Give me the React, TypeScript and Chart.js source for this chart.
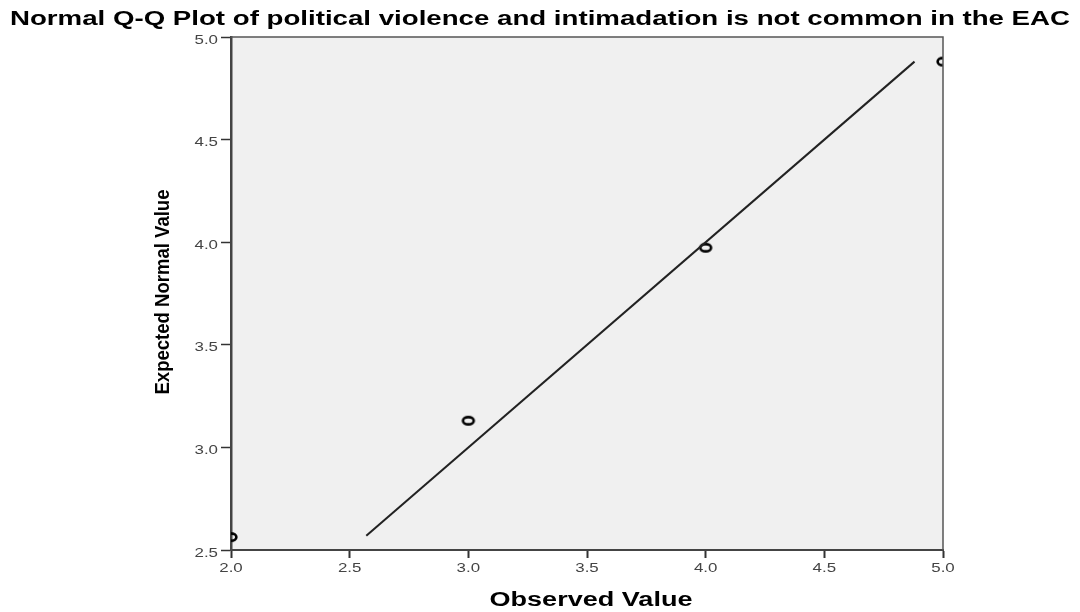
import React, { useEffect, useRef } from "react";
import { Chart, registerables } from "chart.js";

Chart.register(...registerables);

const chartTitle = "Normal Q-Q Plot of political violence and intimadation is not common in the EAC";
const xAxisTitle = "Observed Value";
const yAxisTitle = "Expected Normal Value";

const observedValues = [2, 3, 4, 5];
const expectedNormalValues = [2.563, 3.13, 3.973, 4.88];
const refLineX = [2.57, 4.88];
const refLineY = [2.57, 4.88];

const xTickValues = [2.0, 2.5, 3.0, 3.5, 4.0, 4.5, 5.0];
const yTickValues = [2.5, 3.0, 3.5, 4.0, 4.5, 5.0];

const axisMin = { x: 2, y: 2.5 };
const axisMax = { x: 5, y: 5 };

function makeEllipseMarker() {
  const c = document.createElement("canvas");
  c.width = 18;
  c.height = 14;
  const g = c.getContext("2d")!;
  g.strokeStyle = "#000";
  g.lineWidth = 2.6;
  g.beginPath();
  g.ellipse(9, 7, 5.4, 3.6, 0, 0, Math.PI * 2);
  g.stroke();
  return c;
}

function drawStretched(ctx: CanvasRenderingContext2D, text: string, x: number, y: number, sx: number) {
  ctx.save();
  ctx.translate(x, y);
  ctx.scale(sx, 1);
  ctx.fillText(text, 0, 0);
  ctx.restore();
}

export default function App() {
  const ref = useRef<HTMLCanvasElement | null>(null);

  useEffect(() => {
    if (!ref.current) return;
    const marker = makeEllipseMarker();

    const framePlugin = {
      id: "frame",
      beforeDraw(chart: any) {
        const { ctx, chartArea: a } = chart;
        ctx.save();
        ctx.fillStyle = "#ffffff";
        ctx.fillRect(0, 0, chart.width, chart.height);
        ctx.fillStyle = "#f0f0f0";
        ctx.fillRect(a.left, a.top, a.right - a.left, a.bottom - a.top);
        ctx.restore();
      },
      afterDraw(chart: any) {
        const { ctx, chartArea: a } = chart;
        const xs = chart.scales.x;
        const ys = chart.scales.y;
        ctx.save();
        ctx.strokeStyle = "#555";
        ctx.lineWidth = 1.5;
        ctx.beginPath();
        ctx.moveTo(a.left, a.top);
        ctx.lineTo(a.right, a.top);
        ctx.lineTo(a.right, a.bottom);
        ctx.stroke();

        // tick labels (horizontally stretched like the reference)
        ctx.fillStyle = "#444";
        ctx.font = "13px 'Liberation Sans', Arial, sans-serif";
        ctx.textBaseline = "middle";
        ctx.textAlign = "center";
        xTickValues.forEach((v) => {
          drawStretched(ctx, v.toFixed(1), xs.getPixelForValue(v), 568, 1.3);
        });
        ctx.textAlign = "right";
        yTickValues.forEach((v) => {
          drawStretched(ctx, v.toFixed(1), 218, ys.getPixelForValue(v) + 3, 1.3);
        });

        // Titles
        ctx.fillStyle = "#000";
        ctx.textAlign = "center";
        ctx.textBaseline = "alphabetic";
        ctx.font = "bold 20px 'Liberation Sans', Arial, sans-serif";
        let w = ctx.measureText(chartTitle).width;
        drawStretched(ctx, chartTitle, 540, 25, 1060 / w);
        ctx.font = "bold 20px 'Liberation Sans', Arial, sans-serif";
        w = ctx.measureText(xAxisTitle).width;
        drawStretched(ctx, xAxisTitle, 591, 606, 203 / w);

        ctx.save();
        ctx.translate(169, 292);
        ctx.rotate(-Math.PI / 2);
        ctx.font = "bold 16px 'Liberation Sans', Arial, sans-serif";
        w = ctx.measureText(yAxisTitle).width;
        ctx.scale(205 / w, 1.3);
        ctx.fillText(yAxisTitle, 0, 0);
        ctx.restore();
        ctx.restore();
      },
    };

    const chart = new Chart(ref.current, {
      type: "scatter",
      data: {
        datasets: [
          {
            type: "line",
            data: refLineX.map((x, i) => ({ x, y: refLineY[i] })),
            borderColor: "#222",
            borderWidth: 2,
            pointRadius: 0,
            fill: false,
          },
          {
            type: "scatter",
            data: observedValues.map((x, i) => ({ x, y: expectedNormalValues[i] })),
            borderColor: "#000",
            backgroundColor: "rgba(0,0,0,0)",
            pointStyle: marker as any,
            pointRadius: 6,
            clip: 0,
          },
        ],
      },
      options: {
        responsive: false,
        animation: false,
        layout: { padding: { top: 37, right: 137, left: 0, bottom: 0 } },
        plugins: {
          legend: { display: false },
          tooltip: { enabled: false },
          title: { display: false },
        },
        scales: {
          x: {
            type: "linear",
            min: axisMin.x,
            max: axisMax.x,
            afterFit(scale: any) {
              scale.height = 62;
            },
            ticks: {
              stepSize: 0.5,
              callback: (v: any) => Number(v).toFixed(1),
              font: { size: 13 },
              color: "rgba(0,0,0,0)",
              padding: 1,
              maxRotation: 0,
            },
            grid: { drawOnChartArea: false, drawTicks: true, tickLength: 8, color: "#333", tickWidth: 2 },
            border: { display: true, color: "#444", width: 2 },
          },
          y: {
            type: "linear",
            min: axisMin.y,
            max: axisMax.y,
            afterFit(scale: any) {
              scale.width = 231;
            },
            ticks: {
              stepSize: 0.5,
              callback: (v: any) => Number(v).toFixed(1),
              font: { size: 13 },
              color: "rgba(0,0,0,0)",
              padding: 2,
            },
            grid: { drawOnChartArea: false, drawTicks: true, tickLength: 10, color: "#333", tickWidth: 1.5 },
            border: { display: true, color: "#444", width: 2.5 },
          },
        },
      },
      plugins: [framePlugin],
    });

    return () => chart.destroy();
  }, []);

  return (
    <div style={{ position: "absolute", left: 0, top: 0, width: 1080, height: 612, background: "#fff" }}>
      <canvas ref={ref} width={1080} height={612} style={{ display: "block" }} />
    </div>
  );
}
